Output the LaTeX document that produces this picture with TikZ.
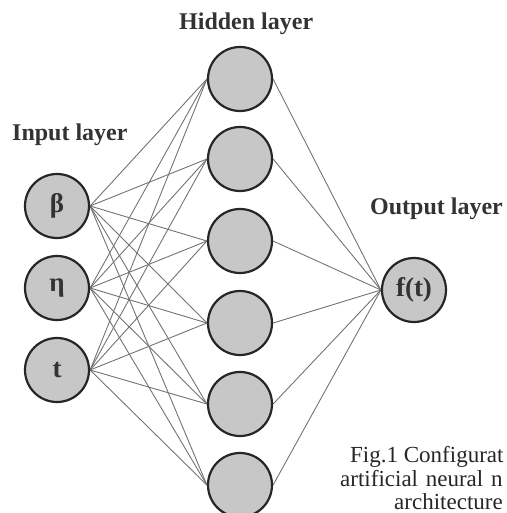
\documentclass[tikz,border=0pt]{standalone}
\usepackage{fontspec}
\setmainfont{Liberation Serif}
\usetikzlibrary{backgrounds}
\begin{document}
\begin{tikzpicture}[x=1pt,y=-1pt,
  neuron/.style={circle, draw=black!85, line width=2.2pt, fill=black!22,
    minimum size=64pt, inner sep=0pt,
    font=\fontsize{27}{27}\selectfont\bfseries, text=black!80},
  layerlabel/.style={font=\fontsize{24}{24}\selectfont\bfseries, text=black!80,
    inner sep=0pt, anchor=base west},
  captionline/.style={font=\fontsize{23}{23}\selectfont, text=black!85,
    inner sep=0pt, anchor=base west},
  link/.style={draw=black!55, line width=0.9pt}]
\useasboundingbox (0,0) rectangle (506,513);
\clip (0,0) rectangle (506,513);

% input layer
\node[neuron] (i1) at (57,206) {β};
\node[neuron] (i2) at (57,288) {η};
\node[neuron] (i3) at (57,370) {t};

% hidden layer
\node[neuron] (h1) at (240,79) {};
\node[neuron] (h2) at (240,159) {};
\node[neuron] (h3) at (240,241) {};
\node[neuron] (h4) at (240,323) {};
\node[neuron] (h5) at (240,404) {};
\node[neuron] (h6) at (240,485) {};

% output layer
\node[neuron] (o1) at (414,290) {f(t)};

% connections
\begin{scope}[on background layer]
\foreach \i in {1,2,3}{
  \foreach \h in {1,...,6}{
    \draw[link] (i\i.east) -- (h\h.west);
  }
}
\foreach \h in {1,...,6}{
  \draw[link] (h\h.east) -- (o1.west);
}
\end{scope}

% labels
\node[layerlabel] (lh) at (179,30) {Hidden layer};
\node[layerlabel] (li) at (12,141) {Input layer};
\node[layerlabel] (lo) at (370,214) {Output layer};

% caption
\node[captionline] (c1) at (350,462) {Fig.1 Configurat};
\node[captionline] (c2) at (340,486) {artificial\hspace{2pt} neural\hspace{2pt} n};
\node[captionline] (c3) at (394,509) {architecture};
\end{tikzpicture}
\end{document}
